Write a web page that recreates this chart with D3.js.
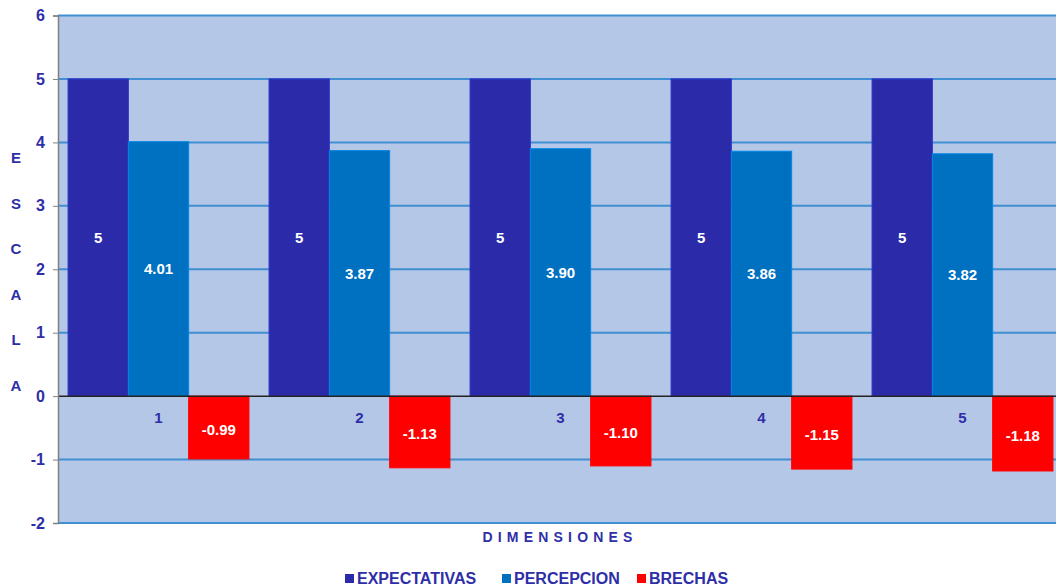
<!DOCTYPE html>
<html><head><meta charset="utf-8">
<script src="https://cdn.jsdelivr.net/npm/d3@7"></script>
<style>body{margin:0;background:#fff}svg{display:block;font-family:"Liberation Sans",Arial,sans-serif;font-weight:bold}</style>
</head><body><svg id="c" width="1056" height="588"></svg>
<script>
const categories = ["1","2","3","4","5"];
const seriesNames = ["EXPECTATIVAS","PERCEPCION","BRECHAS"];
const expectativas = [5,5,5,5,5];
const percepcion = [4.01,3.87,3.90,3.86,3.82];
const brechas = [-0.99,-1.13,-1.10,-1.15,-1.18];
const labelsExp = ["5","5","5","5","5"];
const labelsPer = ["4.01","3.87","3.90","3.86","3.82"];
const labelsBre = ["-0.99","-1.13","-1.10","-1.15","-1.18"];
const yTicks = [-2,-1,0,1,2,3,4,5,6];
const colors = ["#2B2BAA","#0070C0","#FF0000"];
const textColor = "#2E2EA8";

const svg = d3.select("#c");
const L=58, R=1063, T=15.5, B=523;
const y = d3.scaleLinear().domain([-2,6]).range([B,T]);
const x = d3.scaleBand().domain(categories).range([L,R]).paddingInner(0.1).paddingOuter(0.05);
const xs = d3.scaleBand().domain(seriesNames).range([0,x.bandwidth()]);

svg.append("rect").attr("x",L).attr("y",T).attr("width",R-L).attr("height",B-T).attr("fill","#B4C7E7");
svg.append("g").selectAll("line").data(yTicks.filter(d=>d!==0)).join("line")
  .attr("x1",L).attr("x2",R).attr("y1",d=>y(d)).attr("y2",d=>y(d))
  .attr("stroke","#3F8FD2").attr("stroke-width",2);

const data = categories.map((c,i)=>[
  {s:seriesNames[0],v:expectativas[i],lab:labelsExp[i],c},
  {s:seriesNames[1],v:percepcion[i],lab:labelsPer[i],c},
  {s:seriesNames[2],v:brechas[i],lab:labelsBre[i],c}]).flat();

const g = svg.append("g");
g.selectAll("rect").data(data).join("rect")
  .attr("x",d=>x(d.c)+xs(d.s)).attr("width",xs.bandwidth())
  .attr("y",d=>y(Math.max(0,d.v))).attr("height",d=>Math.abs(y(d.v)-y(0)))
  .attr("fill",d=>colors[seriesNames.indexOf(d.s)])
  .attr("stroke",d=>d3.color(colors[seriesNames.indexOf(d.s)]).brighter(0.5)).attr("stroke-width",1);
g.selectAll("text").data(data).join("text")
  .attr("x",d=>x(d.c)+xs(d.s)+xs.bandwidth()/2).attr("y",d=>y(d.v/2)+(d.v<0?2:0))
  .attr("dy","0.35em").attr("text-anchor","middle").attr("fill","#fff").attr("font-size",15)
  .text(d=>d.lab);

svg.append("line").attr("x1",L).attr("x2",R).attr("y1",y(0)).attr("y2",y(0)).attr("stroke","#222").attr("stroke-width",1.5);
const ax = svg.append("g").attr("transform",`translate(${L},0)`).call(d3.axisLeft(y).tickValues(yTicks).tickFormat(d=>String(d)).tickSize(5).tickPadding(8));
ax.select(".domain").attr("stroke","#808080").attr("stroke-width",1.5);
ax.selectAll(".tick line").attr("stroke","#808080");
ax.selectAll(".tick text").attr("fill",textColor).attr("font-size",16).attr("font-family","Liberation Sans, Arial, sans-serif").attr("font-weight","bold");

svg.append("g").selectAll("text").data(categories).join("text")
  .attr("x",d=>x(d)+x.bandwidth()/2).attr("y",y(-0.42)).attr("text-anchor","middle")
  .attr("fill",textColor).attr("font-size",15).text(d=>d);

const yTitle = "ESCALA".split("");
svg.append("g").selectAll("text").data(yTitle).join("text")
  .attr("x",16).attr("y",(d,i)=>163+i*45.6).attr("text-anchor","middle")
  .attr("fill",textColor).attr("font-size",15).text(d=>d);

svg.append("text").attr("x",560).attr("y",542).attr("text-anchor","middle")
  .attr("fill",textColor).attr("font-size",14).attr("letter-spacing","5.2px").text("DIMENSIONES");

const lx=[345,502,637];
const lg = svg.append("g").selectAll("g").data(seriesNames).join("g").attr("transform",(d,i)=>`translate(${lx[i]},571)`);
lg.append("rect").attr("width",9).attr("height",9).attr("y",3).attr("fill",(d,i)=>colors[i]);
lg.append("text").attr("x",12).attr("y",13).attr("fill",textColor).attr("font-size",16).text(d=>d);
</script></body></html>
